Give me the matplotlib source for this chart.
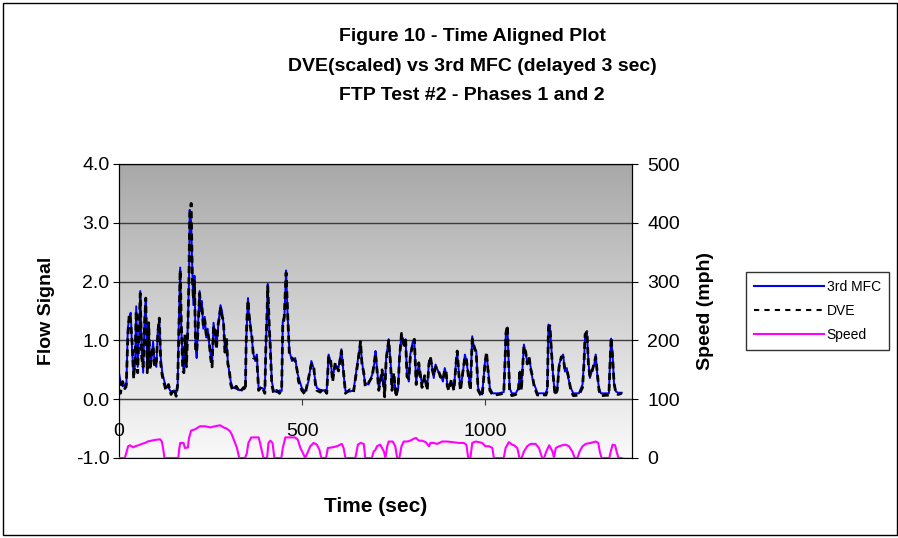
import matplotlib
matplotlib.use("Agg")
import matplotlib.pyplot as plt
from matplotlib.colors import LinearSegmentedColormap
from matplotlib.lines import Line2D
from matplotlib.patches import Rectangle
import numpy as np

plt.rcParams['font.family'] = ['Liberation Sans', 'DejaVu Sans']

title_lines = ["Figure 10 - Time Aligned Plot",
               "DVE(scaled) vs 3rd MFC (delayed 3 sec)",
               "FTP Test #2 - Phases 1 and 2"]

# flow signal samples (time in sec)
t_flow = [0, 4, 10, 16, 20, 24, 28, 32, 36, 40,
          44, 47, 51, 55, 58, 62, 66, 70, 73, 77,
          81, 85, 89, 93, 97, 102, 106, 110, 114, 118,
          122, 128, 135, 142, 150, 156, 160, 163, 167, 170,
          174, 177, 180, 184, 188, 191, 193, 197, 200, 203,
          206, 209, 212, 216, 220, 223, 226, 230, 234, 238,
          242, 246, 250, 254, 258, 262, 266, 270, 274, 277,
          281, 285, 289, 293, 297, 301, 305, 310, 320, 330,
          340, 345, 347, 349, 352, 355, 358, 363, 367, 372,
          376, 381, 390, 398, 401, 404, 406, 410, 413, 417,
          422, 430, 438, 444, 447, 451, 456, 460, 465, 472,
          481, 486, 490, 499, 508, 517, 525, 531, 536, 540,
          549, 558, 567, 572, 577, 583, 590, 599, 607, 613,
          618, 630, 640, 654, 659, 663, 668, 672, 681, 691,
          698, 700, 709, 718, 725, 729, 736, 741, 745, 750,
          756, 762, 765, 771, 777, 782, 786, 791, 795, 802,
          806, 811, 818, 827, 834, 841, 846, 850, 855, 859,
          864, 871, 877, 884, 889, 893, 896, 900, 907, 914,
          920, 923, 928, 932, 938, 944, 948, 955, 959, 964,
          969, 975, 980, 987, 991, 999, 1003, 1008, 1012, 1020,
          1035, 1050, 1053, 1056, 1060, 1063, 1066, 1072, 1083, 1090,
          1094, 1098, 1105, 1110, 1114, 1119, 1124, 1128, 1133, 1137,
          1142, 1151, 1165, 1169, 1172, 1176, 1180, 1185, 1190, 1196,
          1201, 1207, 1212, 1217, 1222, 1226, 1233, 1240, 1255, 1265,
          1269, 1272, 1277, 1281, 1285, 1290, 1297, 1301, 1306, 1310,
          1315, 1337, 1340, 1343, 1347, 1351, 1356, 1362, 1372]

mfc = [0.45, 0.30, 0.22, 0.25, 0.20, 1.20, 1.40, 1.47, 0.80, 0.40,
       0.60, 1.58, 0.55, 1.10, 1.84, 0.80, 0.45, 1.40, 1.67, 0.50,
       1.26, 0.60, 0.70, 0.98, 0.60, 0.55, 1.20, 1.35, 0.70, 0.45,
       0.35, 0.20, 0.20, 0.12, 0.15, 0.10, 0.20, 1.20, 2.24, 1.20,
       0.60, 0.50, 1.00, 0.60, 1.30, 2.00, 3.22, 3.00, 2.20, 1.60,
       2.10, 0.90, 0.70, 1.30, 1.84, 1.50, 1.67, 1.20, 1.40, 1.05,
       1.20, 0.95, 0.75, 0.60, 1.30, 1.10, 0.90, 1.20, 1.45, 1.60,
       1.50, 1.30, 0.85, 1.00, 0.65, 0.45, 0.30, 0.20, 0.18, 0.15,
       0.18, 0.20, 1.00, 1.30, 1.72, 1.40, 1.30, 1.00, 0.76, 0.65,
       0.76, 0.19, 0.19, 0.17, 0.93, 1.50, 1.96, 1.20, 0.93, 0.30,
       0.15, 0.12, 0.15, 0.14, 1.33, 1.33, 2.19, 1.45, 0.82, 0.65,
       0.70, 0.47, 0.37, 0.19, 0.13, 0.30, 0.65, 0.53, 0.30, 0.19,
       0.16, 0.15, 0.16, 0.76, 0.65, 0.36, 0.59, 0.53, 0.85, 0.42,
       0.14, 0.13, 0.15, 0.76, 0.96, 0.65, 0.42, 0.27, 0.25, 0.42,
       0.65, 0.82, 0.19, 0.47, 0.07, 0.70, 1.02, 0.65, 0.19, 0.42,
       0.07, 0.19, 0.70, 1.10, 0.93, 1.02, 0.42, 0.30, 0.76, 0.99,
       0.99, 0.30, 0.59, 0.25, 0.36, 0.19, 0.65, 0.70, 0.53, 0.36,
       0.59, 0.47, 0.42, 0.30, 0.53, 0.42, 0.25, 0.19, 0.30, 0.19,
       0.65, 0.79, 0.42, 0.19, 0.42, 0.76, 0.65, 0.36, 0.19, 1.07,
       0.87, 0.82, 0.19, 0.10, 0.08, 0.65, 0.76, 0.47, 0.19, 0.10,
       0.10, 0.12, 0.60, 1.16, 1.22, 0.70, 0.19, 0.10, 0.10, 0.19,
       0.47, 0.19, 0.93, 0.76, 0.65, 0.70, 0.53, 0.36, 0.25, 0.19,
       0.10, 0.10, 0.10, 0.19, 1.27, 1.22, 0.87, 0.36, 0.10, 0.19,
       0.59, 0.70, 0.76, 0.47, 0.53, 0.36, 0.19, 0.10, 0.10, 0.25,
       0.65, 1.05, 1.13, 0.65, 0.36, 0.47, 0.59, 0.76, 0.36, 0.19,
       0.10, 0.10, 0.65, 1.03, 0.76, 0.25, 0.13, 0.11, 0.11]

dve = [0.35, 0.10, 0.30, 0.18, 0.25, 1.05, 1.45, 1.30, 0.95, 0.35,
       0.70, 1.50, 0.45, 1.20, 1.80, 0.70, 0.55, 1.30, 1.72, 0.45,
       1.30, 0.50, 0.75, 0.90, 0.55, 0.65, 1.10, 1.38, 0.60, 0.40,
       0.30, 0.15, 0.25, 0.08, 0.18, 0.05, 0.25, 1.05, 2.20, 1.30,
       0.50, 0.45, 1.10, 0.55, 1.20, 2.10, 3.15, 3.33, 2.10, 1.70,
       2.00, 0.85, 0.80, 1.20, 1.80, 1.55, 1.60, 1.25, 1.35, 1.10,
       1.15, 1.00, 0.70, 0.55, 1.25, 1.15, 0.85, 1.25, 1.40, 1.55,
       1.40, 1.35, 0.80, 1.05, 0.60, 0.50, 0.25, 0.15, 0.22, 0.12,
       0.20, 0.15, 0.95, 1.35, 1.68, 1.45, 1.25, 1.05, 0.70, 0.70,
       0.70, 0.15, 0.22, 0.10, 0.95, 1.45, 1.92, 1.25, 0.85, 0.25,
       0.10, 0.15, 0.10, 0.18, 1.30, 1.40, 2.15, 1.50, 0.75, 0.70,
       0.65, 0.50, 0.30, 0.15, 0.08, 0.35, 0.60, 0.58, 0.25, 0.15,
       0.12, 0.18, 0.10, 0.72, 0.70, 0.30, 0.62, 0.48, 0.82, 0.45,
       0.10, 0.16, 0.12, 0.72, 0.98, 0.60, 0.45, 0.22, 0.28, 0.38,
       0.70, 0.78, 0.15, 0.50, 0.04, 0.66, 1.00, 0.60, 0.15, 0.45,
       0.04, 0.22, 0.65, 1.12, 0.88, 1.05, 0.38, 0.35, 0.72, 0.95,
       1.02, 0.25, 0.62, 0.20, 0.40, 0.15, 0.60, 0.72, 0.50, 0.40,
       0.55, 0.50, 0.38, 0.33, 0.50, 0.45, 0.22, 0.15, 0.33, 0.15,
       0.62, 0.82, 0.38, 0.15, 0.45, 0.72, 0.68, 0.32, 0.15, 1.02,
       0.90, 0.78, 0.15, 0.07, 0.05, 0.62, 0.80, 0.42, 0.15, 0.07,
       0.08, 0.10, 0.55, 1.12, 1.25, 0.65, 0.15, 0.06, 0.08, 0.15,
       0.50, 0.15, 0.90, 0.80, 0.60, 0.72, 0.50, 0.40, 0.22, 0.15,
       0.07, 0.08, 0.07, 0.15, 1.22, 1.25, 0.82, 0.40, 0.07, 0.15,
       0.55, 0.72, 0.72, 0.50, 0.50, 0.40, 0.15, 0.06, 0.07, 0.20,
       0.60, 1.10, 1.15, 0.60, 0.40, 0.45, 0.62, 0.72, 0.40, 0.15,
       0.06, 0.07, 0.60, 1.05, 0.72, 0.28, 0.10, 0.08, 0.10]

# vehicle speed (mph)
t_speed = [0, 16, 21, 25, 30, 39, 44, 53, 62, 71,
           80, 89, 98, 112, 117, 121, 124, 162, 164, 167,
           176, 180, 188, 191, 197, 208, 221, 235, 249, 262,
           276, 285, 294, 303, 308, 315, 322, 328, 344, 349,
           353, 361, 372, 381, 385, 390, 394, 404, 408, 413,
           419, 424, 443, 447, 454, 467, 481, 488, 495, 504,
           508, 516, 522, 531, 540, 547, 552, 565, 570, 581,
           595, 608, 613, 618, 645, 652, 659, 668, 672, 690,
           695, 700, 704, 713, 723, 727, 732, 736, 747, 754,
           759, 765, 771, 777, 786, 795, 805, 811, 818, 827,
           837, 846, 850, 859, 868, 882, 896, 909, 928, 941,
           948, 953, 959, 964, 973, 982, 991, 1000, 1010, 1019,
           1023, 1050, 1055, 1064, 1073, 1078, 1087, 1093, 1099, 1105,
           1114, 1123, 1137, 1146, 1155, 1160, 1166, 1174, 1178, 1183,
           1187, 1192, 1201, 1210, 1219, 1228, 1237, 1244, 1251, 1257,
           1265, 1274, 1287, 1301, 1308, 1312, 1317, 1338, 1342, 1347,
           1354, 1358, 1363, 1372]

speed = [0, 0, 11, 20, 21.6, 18, 20, 21.6, 24, 25.6,
         28.4, 29.5, 30.7, 31.8, 28, 14, 0, 0, 14, 25.6,
         25.6, 17, 18, 34, 46.6, 48.9, 54, 54, 52, 54,
         55.7, 52, 50, 45.4, 39.8, 28.4, 17, 0, 0, 8.5,
         25.6, 35, 35, 35, 25.6, 11, 0, 0, 25.6, 29.5,
         25.6, 0, 0, 17, 35, 35, 35, 31, 17, 5.7,
         0, 11, 20, 25.6, 22.7, 14, 0, 0, 17, 18,
         20, 24, 17, 0, 0, 22.7, 25.6, 24, 0, 0,
         11, 14, 20, 22.7, 11, 0, 20, 28, 28, 20,
         0, 0, 20, 28, 28, 29.5, 33, 34, 29.5, 29.5,
         27, 20, 25.6, 25.6, 24, 28, 28, 27, 25.6, 25.6,
         22.7, 0, 0, 25.6, 28, 27, 25.6, 20, 20, 17,
         0, 0, 17, 27, 22.7, 21.6, 17, 0, 0, 11,
         20, 24, 24, 17, 0, 0, 11, 21.6, 17, 11,
         1, 17, 20, 21.6, 22.7, 20, 11, 0, 0, 11,
         20, 24, 25.6, 28, 25.6, 11, 0, 0, 11, 22.7,
         21.6, 11, 0, 0]

x_ticks = [0, 500, 1000]
flow_ticks = [-1.0, 0.0, 1.0, 2.0, 3.0, 4.0]
speed_ticks = [0, 100, 200, 300, 400, 500]

W, H = 898, 538
fig = plt.figure(figsize=(W / 100, H / 100), dpi=100)
ax = fig.add_axes([119 / W, 1 - 458 / H, (632 - 119) / W, (458 - 164) / H])

# grey gradient plot area
grad = np.linspace(0, 1, 256).reshape(-1, 1)
cmap = LinearSegmentedColormap.from_list("bg", ["#fafafa", "#a8a8a8"])
ax.imshow(grad, extent=[0, 1400, -1, 4], origin="lower", aspect="auto",
          cmap=cmap, zorder=0)

for v in flow_ticks:
    ax.axhline(v, color="#3c3c3c", lw=1.0, zorder=1)

ax.plot(t_flow, mfc, color="#0000ff", lw=1.4, zorder=3)
ax.plot(t_flow, dve, color="black", lw=2.0, ls=(0, (2.5, 1.5)), zorder=4)

ax.set_xlim(0, 1400)
ax.set_ylim(-1, 4)
ax.set_yticks(flow_ticks)
ax.set_yticklabels([f"{v:.1f}" for v in flow_ticks])
ax.set_xticks(x_ticks)
ax.spines["bottom"].set_position(("data", 0))
ax.spines["bottom"].set_color("#3c3c3c")
ax.tick_params(axis="x", direction="out", length=4, pad=13, labelsize=14,
               color="#3c3c3c")
ax.tick_params(axis="y", direction="out", length=4, pad=3, labelsize=14)
ax.set_ylabel("Flow Signal", fontsize=14, fontweight="bold", labelpad=15)

ax2 = ax.twinx()
ax2.plot(t_speed, speed, color="#ff00ff", lw=1.5, zorder=3)
ax2.set_ylim(0, 500)
ax2.set_yticks(speed_ticks)
ax2.tick_params(axis="y", direction="out", length=4, pad=7, labelsize=14)
ax2.set_ylabel("Speed (mph)", fontsize=14, fontweight="bold", labelpad=12)

fig.text(376 / W, 1 - 507 / H, "Time (sec)", ha="center", va="center",
         fontsize=15, fontweight="bold")

for i, line in enumerate(title_lines):
    fig.text(472 / W, 1 - (37 + 29 * i) / H, line, ha="center", va="center",
             fontsize=14, fontweight="bold")

handles = [Line2D([], [], color="#0000ff", lw=1.5),
           Line2D([], [], color="black", lw=1.5, ls=(0, (2.5, 2.5))),
           Line2D([], [], color="#ff00ff", lw=1.5)]
leg = fig.legend(handles, ["3rd MFC", "DVE", "Speed"], loc="upper left",
                 bbox_to_anchor=(746 / W, 1 - 272 / H), fontsize=10,
                 frameon=True, fancybox=False, handlelength=5.0,
                 handletextpad=0.2, borderaxespad=0, labelspacing=0.7,
                 borderpad=0.6)
leg.get_frame().set_edgecolor("black")
leg.get_frame().set_linewidth(1.0)

fig.patches.append(Rectangle((3 / W, 3 / H), 1 - 4 / W, 1 - 6 / H,
                             transform=fig.transFigure, fill=False,
                             edgecolor="black", lw=1.0))

fig.savefig("out.png", dpi=100)
